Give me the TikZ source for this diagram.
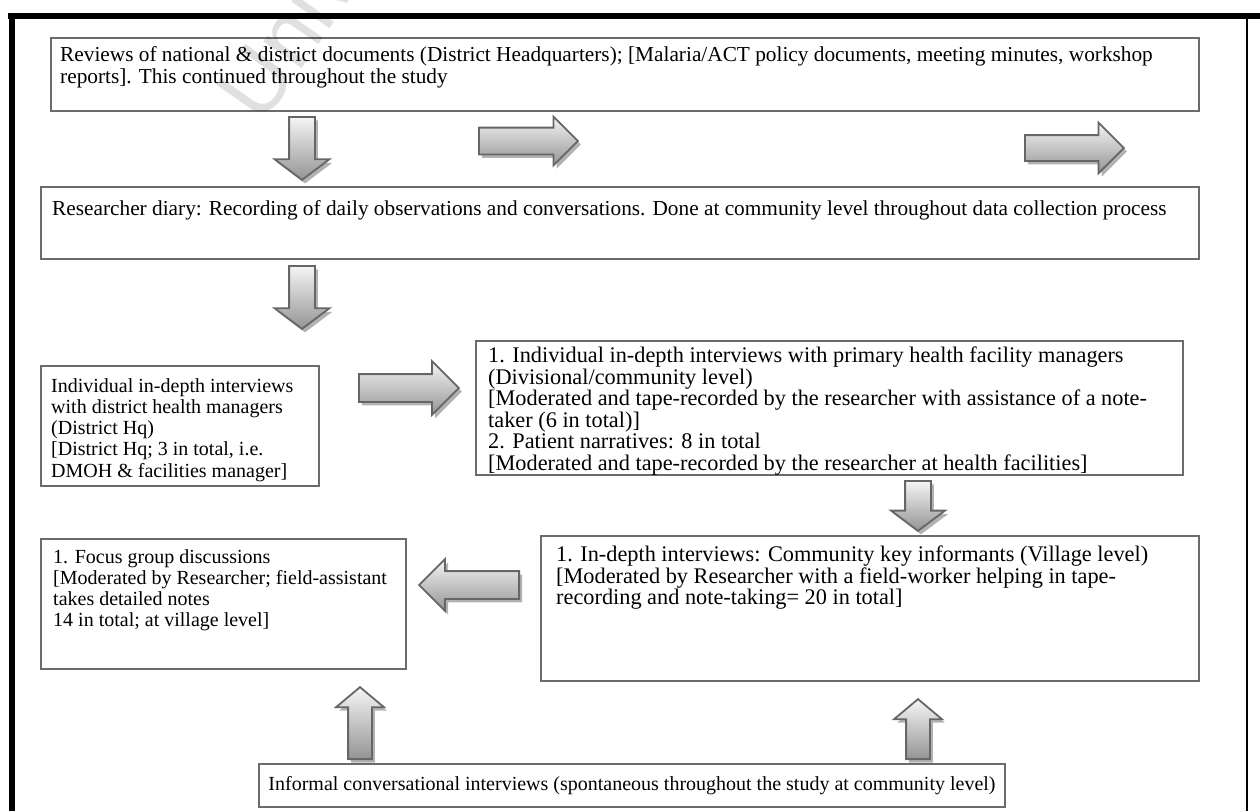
\documentclass[tikz,border=0pt]{standalone}
\usepackage{fontspec}
\setmainfont{Liberation Serif}
\setsansfont{Liberation Sans}
\usetikzlibrary{shapes.arrows,shadows}
\begin{document}
\begin{tikzpicture}[x=1pt,y=-1pt,
  font=\fontsize{21.3}{22}\selectfont,
  frame/.style={draw=black, line width=6pt},
  box/.style={draw=black!58, line width=2pt, fill=white, inner sep=0pt, anchor=north west},
  txt/.style={anchor=north west, align=left, inner sep=0pt},
  small/.style={font=\fontsize{20}{21.3}\selectfont},
  large/.style={font=\fontsize{22.3}{21.5}\selectfont},
  blk/.style={single arrow, draw=black!60, line width=1.8pt,
     anchor=tail, top color=black!4, bottom color=black!42,
     single arrow head indent=0pt,
     drop shadow={shadow xshift=3pt, shadow yshift=-3.5pt, fill=black!30, opacity=1}},
  down/.style={blk, shape border rotate=270},
  up/.style={blk, shape border rotate=90},
  left/.style={blk, shape border rotate=180},
]
\useasboundingbox (0,0) rectangle (1260,811);

% outer frame (open at the bottom)
\coordinate (fTL) at (8,16);
\coordinate (fTR) at (1260,16);
\coordinate (fL1) at (11.5,13);
\coordinate (fL2) at (11.5,811);
\coordinate (fR1) at (1247,16);
\coordinate (fR2) at (1247,811);
\draw[frame] (fTL) -- (fTR);
\draw[frame] (fL1) -- (fL2);
\draw[draw=black, line width=2pt] (fR1) -- (fR2);

% boxes
\node[box, minimum width=1148pt, minimum height=73pt] (b1) at (50,37) {};
\node[box, minimum width=1158pt, minimum height=72pt] (b2) at (40,186) {};
\node[box, minimum width=278pt, minimum height=120pt] (b3) at (40,365) {};
\node[box, minimum width=707pt, minimum height=134pt] (b4) at (475,340) {};
\node[box, minimum width=365pt, minimum height=130pt] (b5) at (40,538) {};
\node[box, minimum width=658pt, minimum height=145pt] (b6) at (540,535) {};
\node[box, minimum width=746pt, minimum height=43pt] (b7) at (258,763) {};

% box texts
\node[txt] (t1) at ([xshift=10pt,yshift=-9pt]b1.north west)
  {Reviews of national \& district documents (District Headquarters); [Malaria/ACT policy documents, meeting minutes, workshop\\
   reports]. This continued throughout the study};
\node[txt] (t2) at ([xshift=12pt,yshift=-14pt]b2.north west)
  {Researcher diary: Recording of daily observations and conversations. Done at community level throughout data collection process};
\node[txt, small] (t3) at ([xshift=11pt,yshift=-13pt]b3.north west)
  {Individual in-depth interviews\\
   with district health managers\\
   (District Hq)\\
   {[}District Hq; 3 in total, i.e.\\
   DMOH \& facilities manager]};
\node[txt, large] (t4) at ([xshift=13pt,yshift=-7pt]b4.north west)
  {1. Individual in-depth interviews with primary health facility managers\\
   (Divisional/community level)\\
   {[}Moderated and tape-recorded by the researcher with assistance of a note-\\
   taker (6 in total)]\\
   2. Patient narratives: 8 in total\\
   {[}Moderated and tape-recorded by the researcher at health facilities]};
\node[txt, small] (t5) at ([xshift=13pt,yshift=-11pt]b5.north west)
  {1. Focus group discussions\\
   {[}Moderated by Researcher; field-assistant\\
   takes detailed notes\\
   14 in total; at village level]};
\node[txt, large] (t6) at ([xshift=16pt,yshift=-11pt]b6.north west)
  {1. In-depth interviews: Community key informants (Village level)\\
   {[}Moderated by Researcher with a field-worker helping in tape-\\
   recording and note-taking= 20 in total]};
\node[inner sep=0pt, font=\fontsize{20}{21}\selectfont] (t7) at (b7.center)
  {Informal conversational interviews (spontaneous throughout the study at community level)};

% block arrows (shaft width = 2 x inner sep)
\node[down, minimum height=63pt, inner sep=12pt, single arrow head extend=14.5pt, single arrow tip angle=106] (d1) at (302,116) {};
\node[blk, minimum height=99pt, inner sep=12.5pt, single arrow head extend=11pt] (r1) at (478,141) {};
\node[blk, minimum height=99pt, inner sep=12pt, single arrow head extend=12.5pt] (r2) at (1024,148) {};
\node[down, minimum height=63pt, inner sep=12pt, single arrow head extend=14.5pt, single arrow tip angle=106] (d2) at (302,265) {};
\node[blk, minimum height=100pt, inner sep=13pt, single arrow head extend=13pt] (r3) at (358,388) {};
\node[down, minimum height=50pt, inner sep=12pt, single arrow head extend=14pt, single arrow tip angle=106] (d3) at (918,480) {};
\node[left, minimum height=100pt, inner sep=13pt, single arrow head extend=12pt] (l1) at (520,585) {};
\node[up, minimum height=72pt, inner sep=11pt, single arrow head extend=12pt, single arrow tip angle=100] (u1) at (360,760) {};
\node[up, minimum height=60pt, inner sep=11pt, single arrow head extend=12pt, single arrow tip angle=100] (u2) at (918,760) {};

% faint watermark lettering across the top
\begin{scope}
\clip (0,0) rectangle (1260,811);
\node[font=\sffamily\fontsize{88}{88}\selectfont, text=black, opacity=0.12,
      rotate=55, anchor=base west, inner sep=0pt] (wm) at (262,126) {Univ};
\end{scope}
\end{tikzpicture}
\end{document}
